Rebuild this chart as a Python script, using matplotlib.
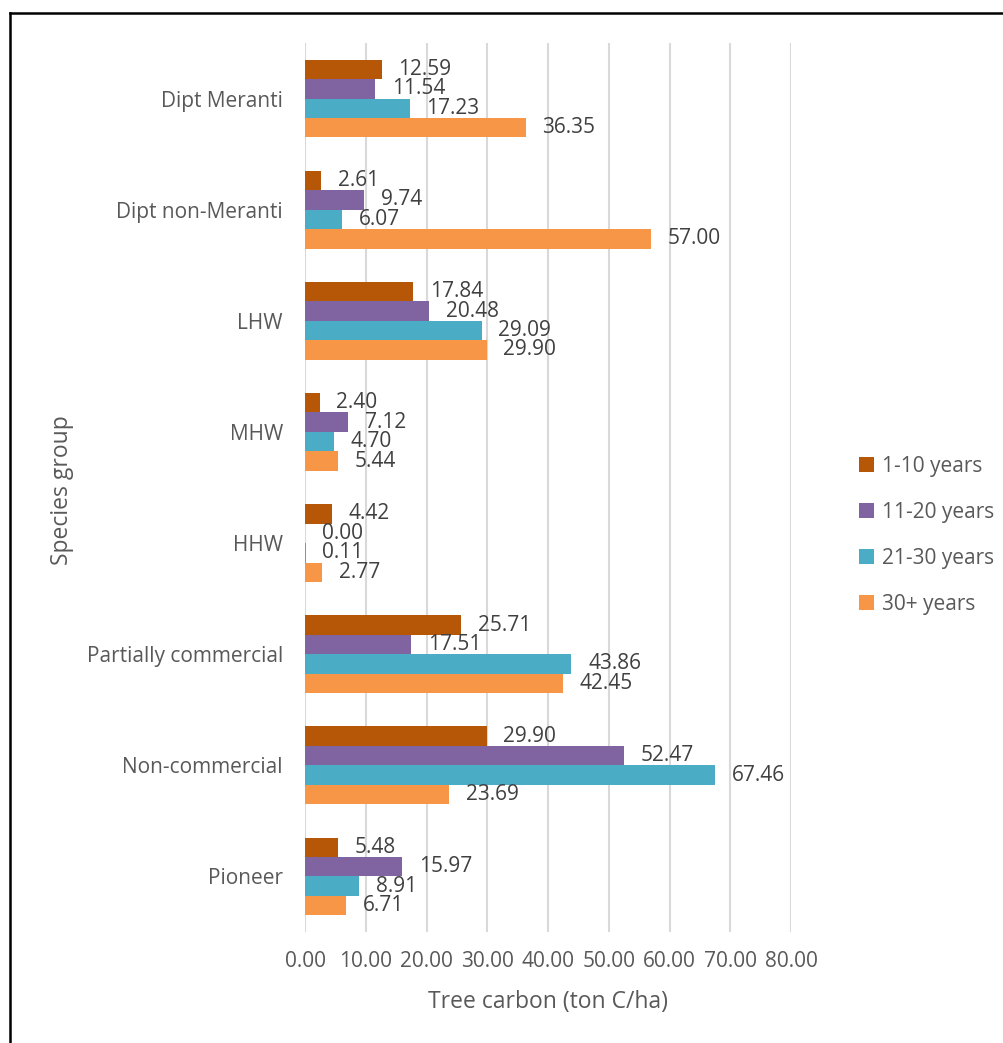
import numpy as np
import matplotlib
matplotlib.use("Agg")
import matplotlib.pyplot as plt
from matplotlib.lines import Line2D

plt.rcParams['font.family'] = ['Open Sans', 'DejaVu Sans']

groups = ["Dipt Meranti", "Dipt non-Meranti", "LHW", "MHW", "HHW",
          "Partially commercial", "Non-commercial", "Pioneer"]
series = ["1-10 years", "11-20 years", "21-30 years", "30+ years"]
yr_1_10 = [12.59, 2.61, 17.84, 2.40, 4.42, 25.71, 29.90, 5.48]
yr_11_20 = [11.54, 9.74, 20.48, 7.12, 0.00, 17.51, 52.47, 15.97]
yr_21_30 = [17.23, 6.07, 29.09, 4.70, 0.11, 43.86, 67.46, 8.91]
yr_30p = [36.35, 57.00, 29.90, 5.44, 2.77, 42.45, 23.69, 6.71]
colors = ["#B65708", "#8064A2", "#4BACC6", "#F79646"]
xticks = [0, 10, 20, 30, 40, 50, 60, 70, 80]

fig = plt.figure(figsize=(10.04, 10.43), dpi=100)
ax = fig.add_axes([0.3038, 0.1064, 0.4841, 0.8524])

y = np.arange(len(groups))
h = 0.175
for i, vals in enumerate([yr_1_10, yr_11_20, yr_21_30, yr_30p]):
    bars = ax.barh(y + (i - 1.5) * h, vals, height=h, color=colors[i],
                   label=series[i], zorder=3)
    ax.bar_label(bars, labels=["%.2f" % v for v in vals], padding=12,
                 fontsize=15, color="#404040")

ax.set_xlim(0, 80)
ax.set_ylim(len(groups) - 0.5, -0.5)
ax.set_xticks(xticks)
ax.set_xticklabels(["%.2f" % t for t in xticks])
ax.set_yticks(y)
ax.set_yticklabels(groups)
ax.tick_params(axis="x", length=0, pad=14, labelsize=15, labelcolor="#595959")
ax.tick_params(axis="y", length=0, pad=16, labelsize=15, labelcolor="#595959")
ax.grid(axis="x", color="#D9D9D9", linewidth=1.5, zorder=0)
for s in ax.spines.values():
    s.set_visible(False)

fig.text(0.062, 0.530, "Species group", rotation=90, ha="center", va="center",
         fontsize=16.5, color="#595959")
fig.text(0.546, 0.039, "Tree carbon (ton C/ha)", ha="center", va="center",
         fontsize=16.5, color="#595959")

leg = ax.legend(loc="center left", bbox_to_anchor=(0.856, 0.487),
                bbox_transform=fig.transFigure, frameon=False, fontsize=15,
                handlelength=0.7, handleheight=0.7, handletextpad=0.4,
                labelspacing=1.2, borderpad=0, borderaxespad=0)
for t in leg.get_texts():
    t.set_color("#595959")

# outer frame
fig.add_artist(Line2D([0.0095, 0.0095], [0, 0.9875], color="black", lw=1.8,
                      transform=fig.transFigure))
fig.add_artist(Line2D([0.0095, 1.0], [0.9875, 0.9875], color="black", lw=1.8,
                      transform=fig.transFigure))

fig.savefig("out.png", dpi=100)
